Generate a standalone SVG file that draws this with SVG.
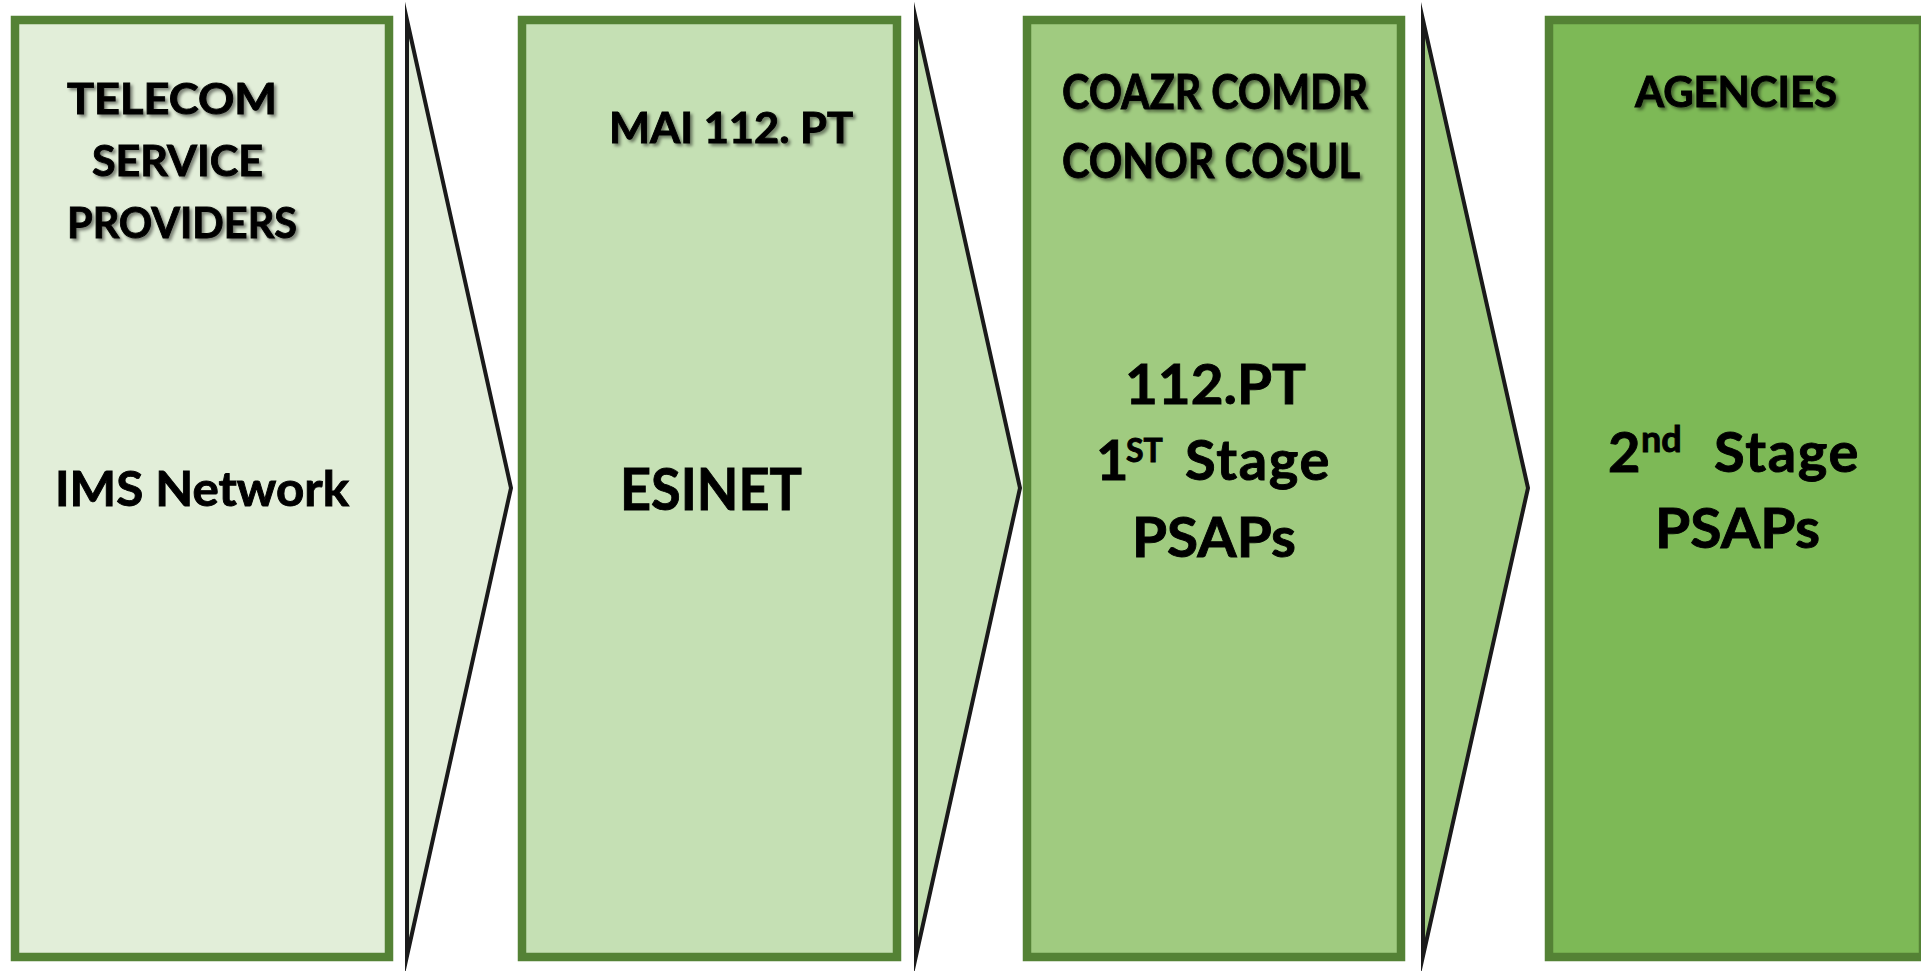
<svg xmlns="http://www.w3.org/2000/svg" width="1921" height="971" viewBox="0 0 1921 971">
<defs>
<filter id="sh" x="-10%" y="-30%" width="130%" height="180%">
<feDropShadow dx="2.5" dy="2.5" stdDeviation="1.5" flood-color="#000" flood-opacity="0.45"/>
</filter>
</defs>
<style>
.box{stroke:#548235;stroke-width:8.5}
.chev{stroke:#1a1a1a;stroke-width:4;stroke-linejoin:miter;stroke-miterlimit:20}
text{font-family:Lato,"Open Sans","Liberation Sans",sans-serif;font-weight:bold;fill:#000;stroke:#000;stroke-width:0.9}
.hd{font-size:42px;filter:url(#sh)}
.big{font-size:56px}
.sp{letter-spacing:1.7px}
.f1{fill:#E2EED9}.f2{fill:#C5E0B4}.f3{fill:#A0CB80}.f4{fill:#7DB956}
</style>
<rect width="1921" height="971" fill="#fff"/>
<g id="connectors">
<polygon class="chev f1" points="407,20 511,488 407,956"/>
<polygon class="chev f2" points="916,20 1020,488 916,956"/>
<polygon class="chev f3" points="1423,20 1528,488 1423,956"/>
</g>
<g id="telecom">
<rect class="box f1" x="15" y="20" width="374" height="937"/>
<text class="hd" x="67" y="114" textLength="210" lengthAdjust="spacingAndGlyphs">TELECOM</text>
<text class="hd" x="92" y="175.5" textLength="171" lengthAdjust="spacingAndGlyphs">SERVICE</text>
<text class="hd" x="67" y="237.5" textLength="230" lengthAdjust="spacingAndGlyphs">PROVIDERS</text>
<text x="55" y="506" font-size="47" textLength="294" lengthAdjust="spacingAndGlyphs">IMS Network</text>
</g>
<g id="esinet">
<rect class="box f2" x="522" y="20" width="375" height="937"/>
<text class="hd" x="609" y="143" textLength="244" lengthAdjust="spacingAndGlyphs">MAI 112. PT</text>
<text x="620" y="510" font-size="57" textLength="182" lengthAdjust="spacingAndGlyphs">ESINET</text>
</g>
<g id="stage1">
<rect class="box f3" x="1027" y="20" width="374" height="937"/>
<text class="hd" x="1062" y="109" textLength="306" lengthAdjust="spacingAndGlyphs" style="font-size:47px">COAZR COMDR</text>
<text class="hd" x="1062" y="178" textLength="298" lengthAdjust="spacingAndGlyphs" style="font-size:47px">CONOR COSUL</text>
<text class="big" x="1125" y="404" textLength="181" lengthAdjust="spacingAndGlyphs">112.PT</text>
<text class="big"><tspan x="1096" y="480">1</tspan><tspan x="1126" y="462" font-size="32">ST</tspan><tspan class="sp" x="1185" y="480">Stage</tspan></text>
<text class="big" x="1132" y="557" textLength="164" lengthAdjust="spacingAndGlyphs">PSAPs</text>
</g>
<g id="stage2">
<rect class="box f4" x="1549" y="20" width="374" height="937"/>
<text class="hd" x="1635" y="107" textLength="202" lengthAdjust="spacingAndGlyphs">AGENCIES</text>
<text class="big"><tspan x="1608" y="472">2</tspan><tspan x="1641" y="452" font-size="36">nd</tspan><tspan class="sp" x="1714" y="472">Stage</tspan></text>
<text class="big" x="1655" y="548" textLength="165" lengthAdjust="spacingAndGlyphs">PSAPs</text>
</g>
</svg>
